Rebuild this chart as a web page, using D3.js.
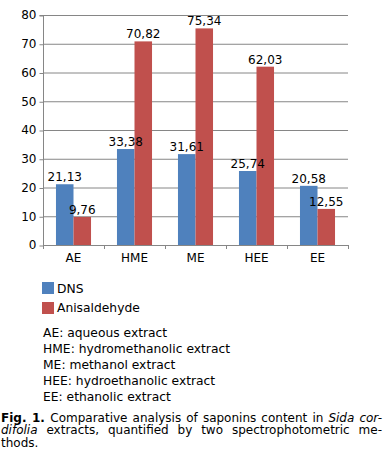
<!DOCTYPE html>
<html><head><meta charset="utf-8">
<script src="https://cdn.jsdelivr.net/npm/d3@7"></script>
<style>
html,body{margin:0;padding:0;background:#fff;}
svg{display:block;font-family:"DejaVu Sans",Verdana,sans-serif;}
</style></head>
<body><svg id="c" width="385" height="467"></svg>
<script>
const categories = ["AE","HME","ME","HEE","EE"];
const dnsValues = [21.13,33.38,31.61,25.74,20.58];
const anisValues = [9.76,70.82,75.34,62.03,12.55];
const seriesNames = ["DNS","Anisaldehyde"];
const seriesColors = ["#4F81BD","#C0504D"];
const yTicks = [0,10,20,30,40,50,60,70,80];
const notes = ["AE: aqueous extract","HME: hydromethanolic extract","ME: methanol extract","HEE: hydroethanolic extract","EE: ethanolic extract"];

const svg = d3.select("#c");
const x0 = 43, x1 = 348, yTop = 15, yBot = 245;
const x = d3.scaleBand().domain(categories).range([x0,x1]);
const y = d3.scaleLinear().domain([0,80]).range([yBot,yTop]);
const inner = d3.scaleBand().domain([0,1]).range([0,x.bandwidth()]).paddingOuter(0.74).paddingInner(0);
const fmt = v => v.toFixed(2).replace(".",",");

// gridlines
svg.append("g").selectAll("line").data(yTicks.filter(t=>t>0)).join("line")
  .attr("x1",x0).attr("x2",x1).attr("y1",d=>y(d)+0.5).attr("y2",d=>y(d)+0.5)
  .attr("stroke","#868686").attr("stroke-width",1);

// y axis
const ya = svg.append("g").attr("transform",`translate(${x0+0.5},0)`)
  .call(d3.axisLeft(y).tickValues(yTicks).tickSize(4).tickPadding(3).tickFormat(d3.format("d")));
ya.select(".domain").attr("stroke","#868686").attr("d",`M-4,${y(80)+0.5}H0V${yBot+0.5}`);
ya.selectAll(".tick line").attr("stroke","#868686").attr("transform","translate(0,0.5)");
ya.selectAll(".tick text").attr("font-size",12).attr("font-family","DejaVu Sans").attr("fill","#000");

// bars
const data = categories.map((c,i)=>({c, vals:[dnsValues[i],anisValues[i]]}));
const groups = svg.append("g").selectAll("g").data(data).join("g")
  .attr("transform",d=>`translate(${x(d.c)},0)`);
groups.selectAll("rect").data(d=>d.vals.map((v,k)=>({v,k}))).join("rect")
  .attr("x",d=>inner(d.k)).attr("width",inner.bandwidth())
  .attr("y",d=>y(d.v)).attr("height",d=>yBot-y(d.v))
  .attr("fill",d=>seriesColors[d.k]);
groups.selectAll("text").data(d=>d.vals.map((v,k)=>({v,k}))).join("text")
  .attr("x",d=>inner(d.k)+inner.bandwidth()/2).attr("y",d=>y(d.v)-3)
  .attr("text-anchor","middle").attr("font-size",12).attr("fill","#000")
  .text(d=>fmt(d.v));

// x axis
svg.append("line").attr("x1",x0).attr("x2",x1).attr("y1",yBot+0.5).attr("y2",yBot+0.5).attr("stroke","#868686");
svg.append("g").selectAll("line").data(d3.range(categories.length+1)).join("line")
  .attr("x1",i=>x0+i*x.bandwidth()+0.5).attr("x2",i=>x0+i*x.bandwidth()+0.5)
  .attr("y1",yBot).attr("y2",yBot+4).attr("stroke","#868686");
svg.append("g").selectAll("text").data(categories).join("text")
  .attr("x",d=>x(d)+x.bandwidth()/2).attr("y",262).attr("text-anchor","middle")
  .attr("font-size",12).text(d=>d);

// legend
const lg = svg.append("g");
seriesNames.forEach((n,i)=>{
  lg.append("rect").attr("x",42).attr("y",282+i*20).attr("width",12).attr("height",12).attr("fill",seriesColors[i]);
  lg.append("text").attr("x",57).attr("y",293+i*19).attr("font-size",12.3).text(n);
});

// notes
svg.append("g").selectAll("text").data(notes).join("text")
  .attr("x",43).attr("y",(d,i)=>337+i*15.9).attr("font-size",12.3).text(d=>d);

// caption: one text per line, justified through word-spacing
const capLines = [
  {just:true, segs:[["Fig. 1. ","b"],["Comparative analysis of saponins content in ",""],["Sida cor-","i"]]},
  {just:true, segs:[["difolia","i"],[" extracts, quantified by two spectrophotometric me-",""]]},
  {just:false, segs:[["thods.",""]]}
];
const capX = 1, capW = 381;
function buildLine(ln, fs, yy){
  const t = svg.append("text").attr("x",capX).attr("y",yy).attr("font-size",fs)
    .style("white-space","pre");
  ln.segs.forEach(([s,st])=>{
    const ts = t.append("tspan").text(s);
    if(st==="b") ts.attr("font-weight","bold");
    if(st==="i") ts.attr("font-style","italic");
  });
  return t;
}
function gaps(ln){ return ln.segs.map(s=>s[0]).join("").trim().split(/ +/).length-1; }
// pick a caption size that lets the densest line fit at normal spacing
let capFS = 12;
capLines.filter(l=>l.just).forEach(ln=>{
  const t = buildLine(ln, 12, -100);
  const w = t.node().getComputedTextLength();
  t.remove();
  if (w > capW) capFS = Math.min(capFS, 12*capW/w);
});
capLines.forEach((ln,li)=>{
  const t = buildLine(ln, capFS, 422 + li*12.4);
  if (ln.just){
    const w = t.node().getComputedTextLength();
    const ws = (capW - w)/gaps(ln);
    t.attr("word-spacing", ws);
  }
});
</script></body></html>
